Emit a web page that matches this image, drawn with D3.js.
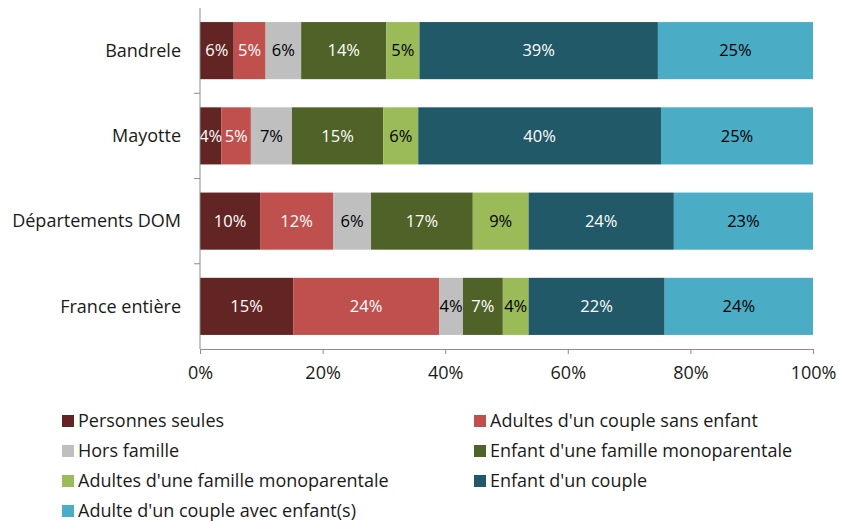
<!DOCTYPE html>
<html>
<head>
<meta charset="utf-8">
<script src="https://cdn.jsdelivr.net/npm/d3@7"></script>
<style>
  body { margin: 0; background: #fff; }
  svg text { font-family: "Open Sans", sans-serif; }
</style>
</head>
<body>
<div id="chart"></div>
<script>
// categories (top to bottom)
var places = ["Bandrele", "Mayotte", "Départements DOM", "France entière"];

// series (share of population, %)
var seriesNames = [
  "Personnes seules",
  "Adultes d'un couple sans enfant",
  "Hors famille",
  "Enfant d'une famille monoparentale",
  "Adultes d'une famille monoparentale",
  "Enfant d'un couple",
  "Adulte d'un couple avec enfant(s)"
];
var personnesSeules = [5.5, 3.5, 9.8, 15.2];
var couplesSansEnfant = [5.2, 4.8, 11.9, 23.8];
var horsFamille = [5.8, 6.7, 6.2, 3.9];
var enfantMono = [13.9, 14.9, 16.6, 6.5];
var adultesMono = [5.4, 5.7, 9.1, 4.2];
var enfantCouple = [38.9, 39.6, 23.7, 22.2];
var adulteCoupleEnfants = [25.3, 24.8, 22.7, 24.2];

var xTicks = [0, 20, 40, 60, 80, 100];

var colors = ["#632523", "#c0504d", "#bfbfbf", "#4f6228", "#9bbb59", "#215968", "#4bacc6"];
var labelColors = ["#fff", "#fff", "#000", "#fff", "#000", "#fff", "#000"];

var allSeries = [personnesSeules, couplesSansEnfant, horsFamille, enfantMono,
                 adultesMono, enfantCouple, adulteCoupleEnfants];

// build rows for d3.stack
var rows = places.map(function (p, i) {
  var r = { place: p };
  seriesNames.forEach(function (s, j) { r[s] = allSeries[j][i]; });
  return r;
});

var width = 845, height = 521;
var margin = { top: 8, left: 200, right: 32 };
var plotBottom = 349;

var svg = d3.select("#chart").append("svg")
  .attr("width", width)
  .attr("height", height);

var x = d3.scaleLinear().domain([0, 100]).range([margin.left, width - margin.right]);
var y = d3.scaleBand().domain(places).range([margin.top, plotBottom])
  .paddingInner(0.33).paddingOuter(0.165);

var stack = d3.stack().keys(seriesNames)(rows);

var groups = svg.append("g").selectAll("g")
  .data(stack)
  .join("g")
  .attr("fill", function (d, i) { return colors[i]; });

groups.selectAll("rect")
  .data(function (d) { return d; })
  .join("rect")
  .attr("x", function (d) { return x(d[0]); })
  .attr("y", function (d) { return y(d.data.place); })
  .attr("width", function (d) { return x(d[1]) - x(d[0]); })
  .attr("height", y.bandwidth());

// value labels
stack.forEach(function (layer, i) {
  svg.append("g").selectAll("text")
    .data(layer)
    .join("text")
    .attr("x", function (d) { return (x(d[0]) + x(d[1])) / 2; })
    .attr("y", function (d) { return y(d.data.place) + y.bandwidth() / 2; })
    .attr("dy", "0.35em")
    .attr("text-anchor", "middle")
    .attr("fill", labelColors[i])
    .style("font-size", "16.5px")
    .text(function (d) { return Math.round(d.data[layer.key]) + "%"; });
});

// left axis: line, ticks between categories, labels
var axisColor = "#8c8c8c";
svg.append("line")
  .attr("x1", x(0)).attr("x2", x(0))
  .attr("y1", margin.top).attr("y2", plotBottom)
  .attr("stroke", axisColor);

var step = y.step();
svg.append("g").selectAll("line")
  .data(places.slice(1))
  .join("line")
  .attr("x1", x(0) - 6).attr("x2", x(0))
  .attr("y1", function (d) { return y(d) - (step - y.bandwidth()) / 2; })
  .attr("y2", function (d) { return y(d) - (step - y.bandwidth()) / 2; })
  .attr("stroke", axisColor);

svg.append("g").selectAll("text")
  .data(places)
  .join("text")
  .attr("x", 181)
  .attr("y", function (d) { return y(d) + y.bandwidth() / 2; })
  .attr("dy", "0.35em")
  .attr("text-anchor", "end")
  .attr("fill", "#1a1a1a")
  .style("font-size", "18px")
  .text(function (d) { return d; });

// bottom axis
var xAxis = d3.axisBottom(x)
  .tickValues(xTicks)
  .tickSize(5)
  .tickPadding(12)
  .tickFormat(function (d) { return d + "%"; });

var gx = svg.append("g")
  .attr("transform", "translate(0," + plotBottom + ")")
  .call(xAxis);
gx.select(".domain").attr("stroke", axisColor);
gx.selectAll(".tick line").attr("stroke", axisColor);
gx.selectAll(".tick text")
  .attr("fill", "#1a1a1a")
  .style("font-size", "18px")
  .style("font-family", "Open Sans, sans-serif");

// legend
var legendX = [62, 474];
var legendY = [421, 451, 481, 511];
var legend = svg.append("g").selectAll("g")
  .data(seriesNames)
  .join("g")
  .attr("transform", function (d, i) {
    return "translate(" + legendX[i % 2] + "," + legendY[Math.floor(i / 2)] + ")";
  });
legend.append("rect")
  .attr("x", 0).attr("y", -6)
  .attr("width", 12).attr("height", 12)
  .attr("fill", function (d, i) { return colors[i]; });
legend.append("text")
  .attr("x", 16)
  .attr("dy", "0.35em")
  .attr("fill", "#1a1a1a")
  .style("font-size", "18px")
  .text(function (d) { return d; });
</script>
</body>
</html>
